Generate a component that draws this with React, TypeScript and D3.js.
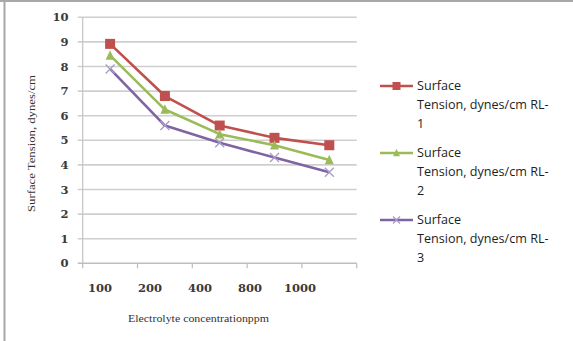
import React, { useEffect, useRef } from "react";
import * as d3 from "d3";

// Electrolyte concentrations (ppm) and surface tension readings per run
const categories = ["100", "200", "400", "800", "1000"];
const rl1 = [8.92, 6.8, 5.6, 5.1, 4.8];
const rl2 = [8.45, 6.25, 5.25, 4.8, 4.2];
const rl3 = [7.9, 5.6, 4.9, 4.3, 3.7];
const seriesNames = [
  "Surface Tension, dynes/cm RL-1",
  "Surface Tension, dynes/cm RL-2",
  "Surface Tension, dynes/cm RL-3",
];
const yTicks = [0, 1, 2, 3, 4, 5, 6, 7, 8, 9, 10];

const W = 573;
const H = 341;

export default function App() {
  const ref = useRef<SVGSVGElement>(null);

  useEffect(() => {
    const svg = d3.select(ref.current);
    svg.selectAll("*").remove();

    const plot = { left: 82.7, right: 356.7, top: 17.3, bottom: 263.3 };
    const x = d3.scaleBand<string>().domain(categories).range([plot.left, plot.right]);
    const xLabel = d3.scalePoint<string>().domain(categories).range([100, 300]);
    const y = d3.scaleLinear().domain([0, 10]).range([plot.bottom, plot.top]);

    // frame
    svg.append("rect").attr("x", 0).attr("y", 0).attr("width", W).attr("height", H).attr("fill", "#fff");
    svg.append("line").attr("x1", 0).attr("x2", W).attr("y1", 1).attr("y2", 1)
      .attr("stroke", "#a8a8a8").attr("stroke-width", 2);
    svg.append("line").attr("x1", 4.5).attr("x2", 4.5).attr("y1", 0).attr("y2", H)
      .attr("stroke", "#a8a8a8").attr("stroke-width", 2);

    // horizontal gridlines and value labels
    const grid = svg.append("g");
    yTicks.forEach((t) => {
      grid.append("line")
        .attr("x1", plot.left - 5).attr("x2", plot.right)
        .attr("y1", y(t)).attr("y2", y(t))
        .attr("stroke", t === 0 ? "#bdbdbd" : "#cfcfcf").attr("stroke-width", 1.6);
      svg.append("text")
        .attr("x", 68.5).attr("y", y(t)).attr("dy", "0.36em")
        .attr("text-anchor", "end")
        .attr("font-family", "DejaVu Serif")
        .attr("font-weight", "bold")
        .attr("font-size", 11.5)
        .attr("fill", "#3a3a3a")
        .text(String(t));
    });

    // y axis line
    svg.append("line").attr("x1", plot.left).attr("x2", plot.left)
      .attr("y1", plot.top).attr("y2", plot.bottom)
      .attr("stroke", "#c4c4c4").attr("stroke-width", 1.2);

    // x category ticks
    const xTickPos = [plot.left, ...categories.map((c) => (x(c) as number) + x.bandwidth())];
    xTickPos.forEach((p) => {
      svg.append("line").attr("x1", p).attr("x2", p)
        .attr("y1", plot.bottom).attr("y2", plot.bottom + 5)
        .attr("stroke", "#bdbdbd").attr("stroke-width", 1.2);
    });
    categories.forEach((c) => {
      svg.append("text")
        .attr("x", xLabel(c) as number).attr("y", 288).attr("dy", "0.36em")
        .attr("text-anchor", "middle")
        .attr("font-family", "DejaVu Serif")
        .attr("font-weight", "bold")
        .attr("font-size", 11.5)
        .attr("fill", "#3a3a3a")
        .text(c);
    });

    // axis titles
    svg.append("text")
      .attr("transform", `translate(31,143.5) rotate(-90)`)
      .attr("text-anchor", "middle").attr("dy", "0.35em")
      .attr("font-family", "Liberation Serif").attr("font-size", 10)
      .attr("textLength", 137).attr("lengthAdjust", "spacingAndGlyphs")
      .attr("fill", "#333")
      .text("Surface Tension, dynes/cm");
    svg.append("text")
      .attr("x", 198.5).attr("y", 318).attr("dy", "0.35em")
      .attr("text-anchor", "middle")
      .attr("font-family", "Liberation Serif").attr("font-size", 10)
      .attr("textLength", 141).attr("lengthAdjust", "spacingAndGlyphs")
      .attr("fill", "#333")
      .text("Electrolyte concentrationppm");

    const cx = (c: string) => (x(c) as number) + x.bandwidth() / 2;
    const line = d3.line<number>()
      .x((_, i) => cx(categories[i]))
      .y((v) => y(v));

    const colors = ["#C0504D", "#9BBB59", "#8064A2"];
    const data = [rl1, rl2, rl3];

    const drawMarker = (g: d3.Selection<SVGGElement, unknown, null, undefined>, kind: number, px: number, py: number, s: number) => {
      if (kind === 0) {
        g.append("rect").attr("x", px - s / 2).attr("y", py - s / 2)
          .attr("width", s).attr("height", s).attr("fill", colors[0]);
      } else if (kind === 1) {
        const h = s * 0.95;
        g.append("path")
          .attr("d", `M${px},${py - h / 2 - 1}L${px + s / 2},${py + h / 2}L${px - s / 2},${py + h / 2}Z`)
          .attr("fill", colors[1]);
      } else {
        const r = s / 2;
        g.append("path")
          .attr("d", `M${px - r},${py - r}L${px + r},${py + r}M${px - r},${py + r}L${px + r},${py - r}`)
          .attr("stroke", "#a89bc8").attr("stroke-width", 1.3).attr("fill", "none");
      }
    };

    // series lines and markers
    data.forEach((vals, k) => {
      const g = svg.append("g");
      g.append("path").attr("d", line(vals) as string)
        .attr("fill", "none").attr("stroke", colors[k]).attr("stroke-width", 2.6)
        .attr("stroke-linejoin", "round");
      vals.forEach((v, i) => drawMarker(g, k, cx(categories[i]), y(v), k === 0 ? 10 : 9));
    });

    // legend
    const legendRows = [86, 153, 220];
    seriesNames.forEach((name, k) => {
      const g = svg.append("g");
      const ly = legendRows[k];
      g.append("line").attr("x1", 380).attr("x2", 413).attr("y1", ly).attr("y2", ly)
        .attr("stroke", colors[k]).attr("stroke-width", 2.6);
      drawMarker(g, k, 396.5, ly, k === 0 ? 8 : 7);
      const words = ["Surface", "Tension, dynes/cm RL-", name.slice(-1)];
      words.forEach((w, j) => {
        g.append("text")
          .attr("x", 417).attr("y", ly + j * 18.7).attr("dy", "0.35em")
          .attr("font-family", "Open Sans").attr("font-size", 12.6)
          .attr("fill", "#1e1e1e")
          .text(w);
      });
    });
  }, []);

  return (
    <svg
      ref={ref}
      width={W}
      height={H}
      style={{ position: "fixed", left: 0, top: 0, display: "block" }}
    />
  );
}
